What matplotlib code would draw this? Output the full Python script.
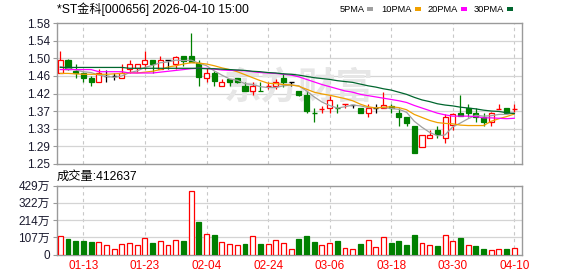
import matplotlib
matplotlib.use("Agg")
import matplotlib.pyplot as plt
from matplotlib.patches import Rectangle

dates = ["01-08","01-09","01-12","01-13","01-14","01-15","01-16","01-19","01-20","01-21",
         "01-22","01-23","01-26","01-27","01-28","01-29","01-30","02-02","02-03","02-04",
         "02-05","02-06","02-09","02-10","02-11","02-12","02-13","02-24","02-25","02-26",
         "02-27","03-02","03-03","03-04","03-05","03-06","03-09","03-10","03-11","03-12",
         "03-13","03-16","03-17","03-18","03-19","03-20","03-23","03-24","03-25","03-26",
         "03-27","03-30","03-31","04-01","04-02","04-03","04-07","04-08","04-09","04-10"]

opens = [1.464,1.493,1.467,1.462,1.452,1.442,1.456,1.456,1.452,1.473,
         1.474,1.484,1.493,1.473,1.493,1.483,1.502,1.502,1.487,1.452,
         1.462,1.433,1.450,1.452,1.432,1.421,1.422,1.431,1.432,1.452,
         1.441,1.420,1.411,1.371,1.379,1.380,1.381,1.389,1.389,1.381,
         1.370,1.380,1.380,1.385,1.370,1.359,1.339,1.289,1.310,1.329,
         1.310,1.341,1.370,1.380,1.370,1.359,1.349,1.379,1.381,1.379]
highs = [1.515,1.495,1.484,1.465,1.457,1.473,1.470,1.462,1.483,1.493,
         1.484,1.514,1.493,1.502,1.493,1.502,1.502,1.557,1.493,1.474,
         1.468,1.450,1.450,1.452,1.441,1.441,1.441,1.442,1.450,1.462,
         1.441,1.421,1.420,1.380,1.385,1.409,1.390,1.390,1.389,1.381,
         1.390,1.390,1.419,1.390,1.380,1.360,1.339,1.318,1.329,1.339,
         1.368,1.370,1.411,1.390,1.380,1.370,1.371,1.390,1.381,1.390]
lows = [1.462,1.470,1.452,1.442,1.432,1.442,1.443,1.447,1.452,1.463,
        1.466,1.473,1.463,1.472,1.473,1.473,1.480,1.488,1.432,1.442,
        1.432,1.433,1.432,1.440,1.421,1.411,1.420,1.425,1.425,1.431,
        1.432,1.410,1.370,1.349,1.370,1.370,1.370,1.380,1.382,1.370,
        1.361,1.370,1.380,1.370,1.340,1.340,1.276,1.289,1.310,1.311,
        1.298,1.329,1.362,1.359,1.349,1.339,1.339,1.379,1.369,1.370]
closes = [1.493,1.473,1.463,1.452,1.441,1.462,1.456,1.456,1.463,1.483,
          1.483,1.493,1.483,1.493,1.493,1.501,1.491,1.489,1.454,1.463,
          1.444,1.441,1.442,1.442,1.421,1.432,1.420,1.432,1.441,1.441,
          1.441,1.411,1.373,1.370,1.380,1.400,1.380,1.390,1.389,1.370,
          1.380,1.380,1.389,1.381,1.359,1.347,1.276,1.318,1.318,1.321,
          1.359,1.368,1.363,1.370,1.361,1.349,1.370,1.380,1.370,1.380]

# volume in 万
volumes = [115,98,82,82,75,79,59,36,67,73,
           61,102,73,86,61,92,82,397,199,130,
           123,79,67,61,67,115,67,67,90,73,
           35,96,112,77,56,69,81,42,35,64,
           92,48,106,71,81,56,121,69,60,50,
           119,87,100,62,50,37,31,35,37,41]
vol_up = [1,0,0,0,0,1,1,1,1,1,
          1,1,0,1,1,1,0,1,0,1,
          0,1,1,1,0,1,0,1,1,1,
          1,0,0,0,1,1,0,1,1,0,
          1,1,1,0,0,0,0,1,1,0,
          1,1,0,1,0,0,1,1,0,1]

ma5 = [1.478,1.474,1.470,1.466,1.464,1.458,1.455,1.453,1.456,1.464,
       1.468,1.476,1.481,1.487,1.489,1.493,1.492,1.493,1.486,1.480,
       1.468,1.458,1.449,1.446,1.438,1.436,1.431,1.429,1.429,1.433,
       1.435,1.433,1.421,1.407,1.395,1.387,1.381,1.384,1.388,1.386,
       1.382,1.382,1.382,1.380,1.378,1.371,1.350,1.336,1.324,1.316,
       1.318,1.337,1.346,1.356,1.364,1.362,1.363,1.366,1.366,1.370]
ma10 = [1.462,1.462,1.461,1.460,1.460,1.460,1.460,1.461,1.462,1.464,
        1.463,1.465,1.467,1.471,1.477,1.480,1.484,1.487,1.486,1.484,
        1.480,1.475,1.471,1.466,1.459,1.452,1.445,1.439,1.438,1.436,
        1.435,1.432,1.425,1.418,1.414,1.411,1.407,1.403,1.398,1.390,
        1.384,1.381,1.383,1.384,1.382,1.377,1.366,1.359,1.352,1.347,
        1.345,1.344,1.341,1.340,1.340,1.340,1.350,1.356,1.361,1.367]
ma20 = [1.471,1.471,1.471,1.471,1.471,1.466,1.466,1.466,1.466,1.463,
        1.463,1.463,1.463,1.465,1.467,1.469,1.471,1.473,1.474,1.474,
        1.472,1.470,1.469,1.469,1.468,1.466,1.464,1.463,1.462,1.460,
        1.458,1.454,1.448,1.442,1.436,1.431,1.426,1.421,1.418,1.413,
        1.410,1.407,1.404,1.401,1.398,1.394,1.387,1.381,1.375,1.369,
        1.365,1.362,1.362,1.362,1.361,1.358,1.358,1.357,1.356,1.357]
ma30 = [1.476,1.476,1.476,1.476,1.476,1.476,1.476,1.476,1.476,1.474,
        1.474,1.474,1.474,1.474,1.474,1.474,1.474,1.474,1.474,1.473,
        1.473,1.472,1.471,1.470,1.469,1.467,1.466,1.464,1.463,1.461,
        1.460,1.458,1.455,1.452,1.450,1.448,1.445,1.443,1.441,1.437,
        1.433,1.430,1.426,1.423,1.418,1.413,1.406,1.400,1.396,1.391,
        1.388,1.386,1.383,1.381,1.379,1.376,1.374,1.373,1.370,1.368]

xtick_labels = ["01-13","01-23","02-04","02-24","03-06","03-18","03-30","04-10"]
price_ticks = [1.25,1.29125,1.3325,1.37375,1.415,1.45625,1.4975,1.53875,1.58]
vol_ticks = [0,107.25,214.5,321.75,429]
vol_tick_labels = ["0","107万","214万","322万","429万"]

title = "*ST金科[000656] 2026-04-10 15:00"
vol_title = "成交量:412637"
ma_names = ["5PMA","10PMA","20PMA","30PMA"]

RED = "#ff0000"
GREEN = "#008000"
MA_COLORS = ["#a0a0a0", "#f0a000", "#ff00ff", "#00662e"]
GRID = "#d4d4d4"
FRAME = "#9a9a9a"
FONT = ["Liberation Sans", "Noto Sans CJK SC", "DejaVu Sans"]

W, H = 578, 276
fig = plt.figure(figsize=(W/100, H/100), dpi=100)
fig.patch.set_facecolor("white")

def fx(px): return px / W
def fy(py): return 1 - py / H

L, R = 57, 522
axp = fig.add_axes([fx(L), fy(164), fx(R - L), (164 - 23) / H])
axv = fig.add_axes([fx(L), fy(254.5), fx(R - L), (254.5 - 185.5) / H])

n = len(dates)
xs = list(range(n))
tick_pos = [dates.index(d) for d in xtick_labels]

for ax in (axp, axv):
    ax.set_xlim(-0.43, n)
    for s in ax.spines.values():
        s.set_color(FRAME)
        s.set_linewidth(1.0)
    for tp in tick_pos:
        ax.axvline(tp, color="#c8c8c8", lw=0.8, dashes=(3, 3), zorder=0.5)
    ax.tick_params(axis="y", length=3, width=0.8, color=FRAME, pad=2,
                   labelsize=8.5, labelcolor="#1a1a2e")
    ax.set_facecolor("white")

# price axis
axp.set_ylim(1.25, 1.58)
axp.set_yticks(price_ticks)
axp.set_yticklabels([f"{t:.2f}" for t in price_ticks], fontfamily=FONT)
for t in price_ticks[1:-1]:
    axp.axhline(t, color=GRID, lw=0.9, zorder=0.5)
axp.set_xticks([])

# watermark
axp.text(31, 1.428, "东方财富", fontsize=27, color="#e6e6e6", ha="center",
         va="center", fontfamily=["Noto Sans CJK SC"], fontweight="bold", zorder=0.6)

bw = 0.66
for i in xs:
    o, h, l, c = opens[i], highs[i], lows[i], closes[i]
    if c > o:
        col = RED
    elif c < o:
        col = GREEN
    else:
        col = "#000000"
    axp.vlines(i, l, h, color=col, lw=0.9, zorder=2)
    if abs(c - o) < 0.0015:
        axp.hlines((o + c) / 2, i - bw / 2, i + bw / 2, color=col, lw=1.0, zorder=3)
    elif c > o:
        axp.bar(i, c - o, bottom=o, width=bw, facecolor="white", edgecolor=col,
                linewidth=0.9, zorder=3)
    else:
        axp.bar(i, o - c, bottom=c, width=bw, facecolor=col, edgecolor=col,
                linewidth=0.9, zorder=3)

for vals, col in zip([ma5, ma10, ma20, ma30], MA_COLORS):
    axp.plot(xs, vals, color=col, lw=0.9, zorder=4)

# volume axis
axv.set_ylim(0, 429)
axv.set_yticks(vol_ticks)
axv.set_yticklabels(vol_tick_labels, fontfamily=FONT)
for t in vol_ticks[1:-1]:
    axv.axhline(t, color=GRID, lw=0.9, zorder=0.5)
axv.set_xticks(tick_pos)
axv.set_xticklabels(xtick_labels, fontfamily=FONT, fontsize=8.5, color=RED)
axv.tick_params(axis="x", length=0, pad=4)
vw = 0.64
for i in xs:
    if vol_up[i]:
        axv.bar(i, volumes[i], width=vw, facecolor="white", edgecolor=RED,
                linewidth=0.9, zorder=3)
    else:
        axv.bar(i, volumes[i], width=vw, facecolor=GREEN, edgecolor=GREEN,
                linewidth=0.9, zorder=3)

# titles
fig.text(fx(57), fy(9), title, fontsize=8.7, fontfamily=FONT, va="center",
         ha="left", color="#000000")
fig.text(fx(57), fy(176.5), vol_title, fontsize=8.8, fontfamily=FONT, va="center",
         ha="left", color="#000000")

# legend
leg_x = [340, 381, 428, 474]
sq_x = [367, 415, 461, 507]
for name, lx, sx, col in zip(ma_names, leg_x, sq_x, MA_COLORS):
    fig.text(fx(lx), fy(9), name, fontsize=6.7, fontfamily=FONT, va="center",
             ha="left", color="#000000")
    fig.patches.append(Rectangle((fx(sx), fy(11)), 6 / W, 4 / H,
                                 transform=fig.transFigure, facecolor=col,
                                 edgecolor="none"))

fig.savefig("out.png", dpi=100)
